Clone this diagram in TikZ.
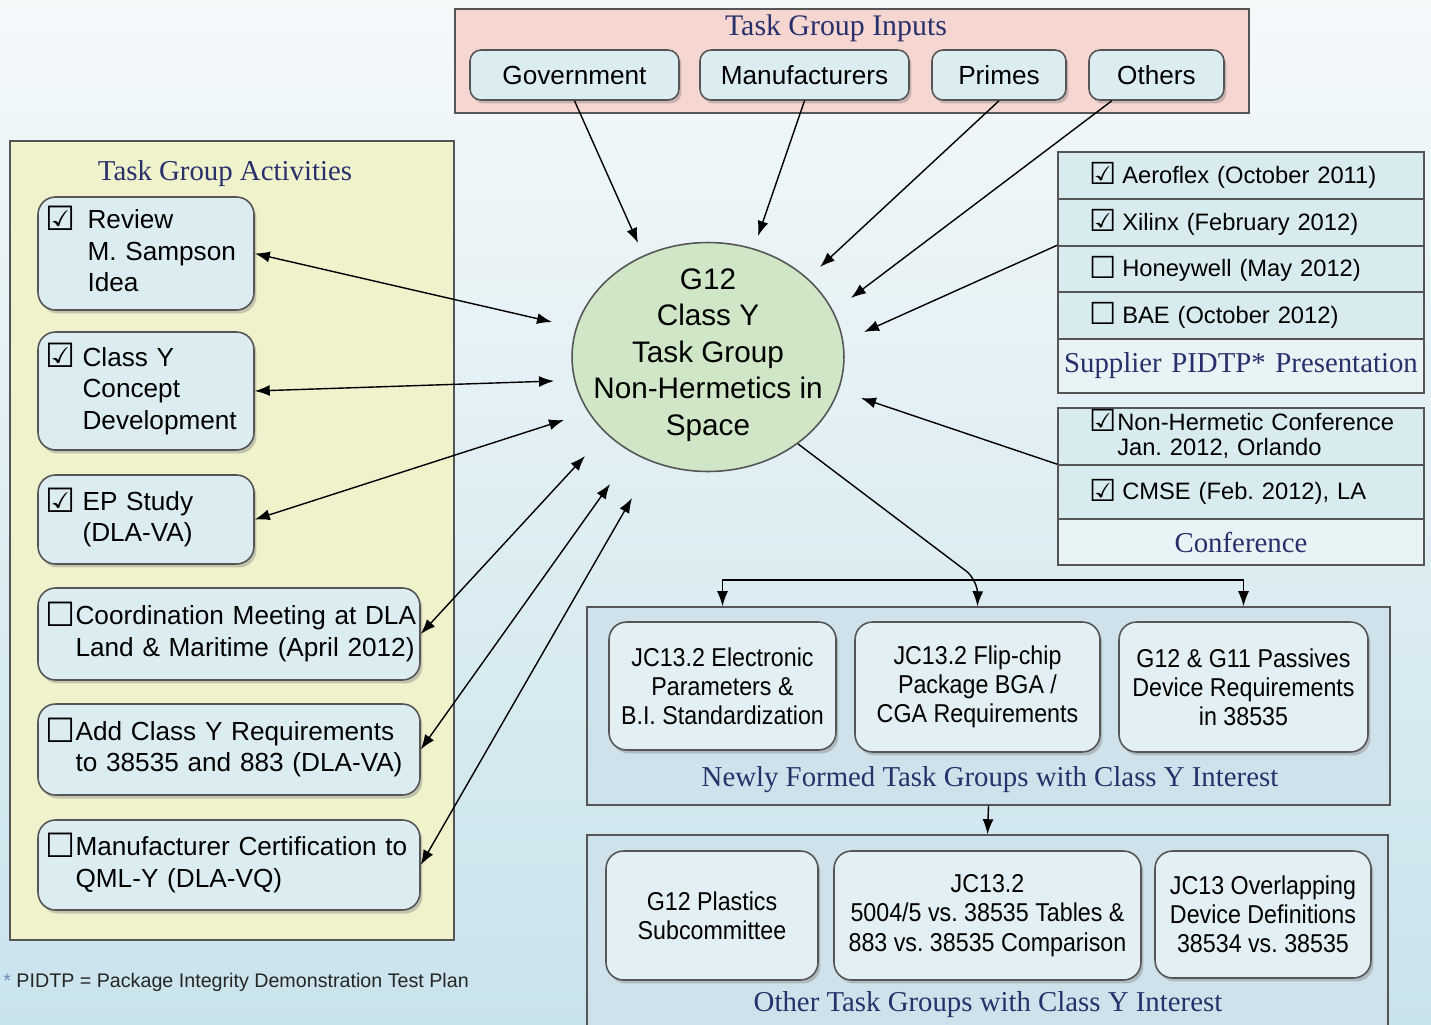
\documentclass[tikz,border=0pt]{standalone}
\usepackage{graphicx}
\usepackage{fontspec}
\setmainfont{Liberation Sans}
\newfontfamily\seriffont{Liberation Serif}
\newfontfamily\narrowfont[FakeStretch=0.9]{Liberation Sans}
\newfontfamily\symfont{DejaVu Sans}
\usetikzlibrary{shapes.geometric,shadows,arrows.meta}

\definecolor{bgtop}{HTML}{F4F9FA}
\definecolor{bgbottom}{HTML}{C9E3EC}
\definecolor{navy}{HTML}{28306B}
\definecolor{pinkbg}{HTML}{F6D6D0}
\definecolor{yellowbg}{HTML}{EFF2CB}
\definecolor{boxfill}{HTML}{DCEDF1}
\definecolor{greenfill}{HTML}{CFE7C6}
\definecolor{panelblue}{HTML}{CFE1EB}
\definecolor{tgfill}{HTML}{E2F0F3}
\definecolor{rowfill}{HTML}{D8EBEE}
\definecolor{rowtitlefill}{HTML}{E8F3F5}
\definecolor{framegray}{HTML}{555555}
\definecolor{asterisk}{HTML}{6A8FC0}

\newcommand{\chk}{\raisebox{-0.06em}{\scalebox{1.28}{\symfont\bfseries ☑}}}
\newcommand{\nochk}{\raisebox{-0.06em}{\scalebox{1.28}{\symfont ☐}}}

\begin{document}
\frenchspacing
\begin{tikzpicture}[x=0.02cm, y=-0.02cm,
    link/.style={line width=0.8pt, >={Latex[length=0.3cm,width=0.22cm]}},
    panel/.style={draw=framegray, line width=0.9pt},
    rbox/.style={draw=framegray, line width=0.9pt, rounded corners=0.35cm, fill=boxfill,
      drop shadow={opacity=0.4, shadow xshift=0.05cm, shadow yshift=-0.07cm}},
    inbox/.style={rbox, rounded corners=0.22cm, minimum height=1cm, font=\fontsize{14.9}{17.9}\selectfont},
    act/.style={rbox, inner xsep=0.15cm, align=left, font=\fontsize{14.9}{17.9}\selectfont},
    tgbox/.style={rbox, fill=tgfill, align=center, font=\narrowfont\fontsize{14.7}{16.6}\selectfont},
    paneltitle/.style={font=\seriffont\fontsize{16.4}{19}\selectfont, text=navy},
    tablerow/.style={draw=framegray, line width=0.9pt, fill=rowfill, text width=6.66cm, inner xsep=0.33cm,
      inner ysep=0pt, align=left, font=\fontsize{13.5}{14.3}\selectfont},
    tabletitle/.style={tablerow, fill=rowtitlefill, text width=7.16cm, inner xsep=0.08cm, align=center,
      font=\seriffont\fontsize{16.4}{19}\selectfont, text=navy}]

  \useasboundingbox (0,0) rectangle (1431,1025);
  \clip (0,0) rectangle (1431,1025);
  \shade[top color=bgtop, bottom color=bgbottom] (0,0) rectangle (1431,1025);

  % Task group inputs
  \node[panel, fill=pinkbg, minimum width=15.88cm, minimum height=2.08cm] (inputs) at (852,61) {};
  \node[paneltitle, font=\seriffont\fontsize{17}{19}\selectfont] (inputstitle) at (836,28) {Task Group Inputs};
  \node[inbox, minimum width=4.18cm] (gov) at (574.5,75) {Government};
  \node[inbox, minimum width=4.18cm] (manu) at (804.5,75) {Manufacturers};
  \node[inbox, minimum width=2.68cm] (primes) at (999,75) {Primes};
  \node[inbox, minimum width=2.7cm] (others) at (1156.5,75) {Others};

  % Task group activities
  \node[panel, fill=yellowbg, minimum width=8.88cm, minimum height=15.98cm] (acts) at (232,540.5) {};
  \node[paneltitle] (actstitle) at (225,174) {Task Group Activities};
  \node[act, text width=4.02cm, minimum height=2.26cm] (rev) at (146,253.5)
    {\begin{tabular}{@{}l@{\hspace{0.24cm}}l@{}}\chk & Review\\ & M. Sampson\\ & Idea\end{tabular}};
  \node[act, text width=4.02cm, minimum height=2.36cm] (cls) at (146,391)
    {\begin{tabular}{@{}l@{\hspace{0.14cm}}l@{}}\chk & Class Y\\ & Concept\\ & Development\end{tabular}};
  \node[act, text width=4.02cm, minimum height=1.78cm] (ep) at (146,519.5)
    {\begin{tabular}{@{}l@{\hspace{0.14cm}}l@{}}\chk & EP Study\\ & (DLA-VA)\end{tabular}};
  \node[act, text width=7.34cm, minimum height=1.84cm] (coord) at (229,634)
    {\begin{tabular}{@{}l@{\hspace{0.0cm}}l@{}}\nochk & Coordination Meeting at DLA\\ & Land \& Maritime (April 2012)\end{tabular}};
  \node[act, text width=7.34cm, minimum height=1.82cm] (addy) at (229,749.5)
    {\begin{tabular}{@{}l@{\hspace{0.0cm}}l@{}}\nochk & Add Class Y Requirements\\ & to 38535 and 883 (DLA-VA)\end{tabular}};
  \node[act, text width=7.34cm, minimum height=1.8cm] (cert) at (229,865)
    {\begin{tabular}{@{}l@{\hspace{0.0cm}}l@{}}\nochk & Manufacturer Certification to\\ & QML-Y (DLA-VQ)\end{tabular}};

  \node[anchor=west, inner sep=0pt, font=\fontsize{11.2}{13}\selectfont, text=black!85] (note) at (3,982)
    {{\color{asterisk}*} PIDTP = Package Integrity Demonstration Test Plan};

  % Central task group
  \node[ellipse, draw=framegray, line width=0.9pt, fill=greenfill, minimum width=5.44cm, minimum height=4.58cm] (core) at (708,357) {};
  \node[align=center, font=\fontsize{16.9}{20.8}\selectfont] (coretext) at (708,355)
    {G12\\Class Y\\Task Group\\Non-Hermetics in\\Space};

  % Supplier presentations
  \node[tablerow, minimum height=0.94cm] (sp1) at (1241,175.5) {\hspace*{0.29cm}\chk\hspace{0.12cm}Aeroflex (October 2011)};
  \node[tablerow, minimum height=0.94cm] (sp2) at (1241,222.5) {\hspace*{0.29cm}\chk\hspace{0.12cm}Xilinx (February 2012)};
  \node[tablerow, minimum height=0.92cm] (sp3) at (1241,269) {\hspace*{0.29cm}\nochk\hspace{0.12cm}Honeywell (May 2012)};
  \node[tablerow, minimum height=0.94cm] (sp4) at (1241,315.5) {\hspace*{0.29cm}\nochk\hspace{0.12cm}BAE (October 2012)};
  \node[tabletitle, minimum height=1.08cm] (sptitle) at (1241,366) {Supplier PIDTP* Presentation};

  % Conferences
  \node[tablerow, minimum height=1.14cm] (cf1) at (1241,436.5)
    {\hspace*{0.29cm}\begin{tabular}[t]{@{}l@{\hspace{0.02cm}}l@{}}\chk & Non-Hermetic Conference\\ & Jan. 2012, Orlando\end{tabular}};
  \node[tablerow, minimum height=1.08cm] (cf2) at (1241,492) {\hspace*{0.29cm}\chk\hspace{0.12cm}CMSE (Feb. 2012), LA};
  \node[tabletitle, minimum height=0.92cm] (cftitle) at (1241,542) {Conference};

  % Newly formed task groups
  \node[panel, fill=panelblue, minimum width=16.06cm, minimum height=3.96cm] (newly) at (988.5,706) {};
  \node[tgbox, minimum width=4.54cm, minimum height=2.56cm] (n1) at (722.5,686) {JC13.2 Electronic\\Parameters \&\\B.I. Standardization};
  \node[tgbox, minimum width=4.9cm, minimum height=2.6cm] (n2) at (977.5,687) {JC13.2 Flip-chip\\Package BGA /\\CGA Requirements};
  \node[tgbox, minimum width=4.98cm, minimum height=2.6cm] (n3) at (1243.5,687) {G12 \& G11 Passives\\Device Requirements\\in 38535};
  \node[paneltitle] (newlytitle) at (990,780) {Newly Formed Task Groups with Class Y Interest};

  % Other task groups
  \node[panel, fill=panelblue, minimum width=16.02cm, minimum height=4.2cm] (other) at (987.5,940) {};
  \node[tgbox, minimum width=4.24cm, minimum height=2.58cm] (o1) at (712,915.5) {G12 Plastics\\Subcommittee};
  \node[tgbox, minimum width=6.14cm, minimum height=2.58cm] (o2) at (987.5,915.5) {JC13.2\\5004/5 vs. 38535 Tables \&\\883 vs. 38535 Comparison};
  \node[tgbox, minimum width=4.32cm, minimum height=2.54cm] (o3) at (1263,914.5) {JC13 Overlapping\\Device Definitions\\38534 vs. 38535};
  \node[paneltitle] (othertitle) at (988,1005) {Other Task Groups with Class Y Interest};

  % Arrow ends near the ellipse
  \coordinate (in1) at (638,243);
  \coordinate (in2) at (758,236);
  \coordinate (in3) at (820,267);
  \coordinate (in4) at (851,298);
  \coordinate (in5) at (864,332);
  \coordinate (in6) at (861,398);
  \coordinate (a1) at (552,322);
  \coordinate (a2) at (554,381);
  \coordinate (a3) at (564,420);
  \coordinate (a4) at (585,456);
  \coordinate (a5) at (610,484);
  \coordinate (a6) at (632,498);
  \coordinate (split) at (978,580);

  % Inputs into the task group
  \foreach \src/\dst in {gov.south/in1, manu.south/in2, primes.south/in3, others.-150/in4, sp3.north west/in5, cf2.north west/in6}
    \draw[link,->] (\src) -- (\dst);

  % Activities
  \foreach \src/\dst in {rev/a1, cls/a2, ep/a3, coord/a4, addy/a5, cert/a6}
    \draw[link,<->] (\src.east) -- (\dst);

  % Down to the task groups
  \draw[link,->,rounded corners=0.3cm] (core.-44) -- (split) -- (n2.north |- newly.north);
  \draw[link,->] (split) -| (n1.north |- newly.north);
  \draw[link,->] (split) -| (n3.north |- newly.north);
  \draw[link,->] (newly.south) -- (other.north);
\end{tikzpicture}
\end{document}
